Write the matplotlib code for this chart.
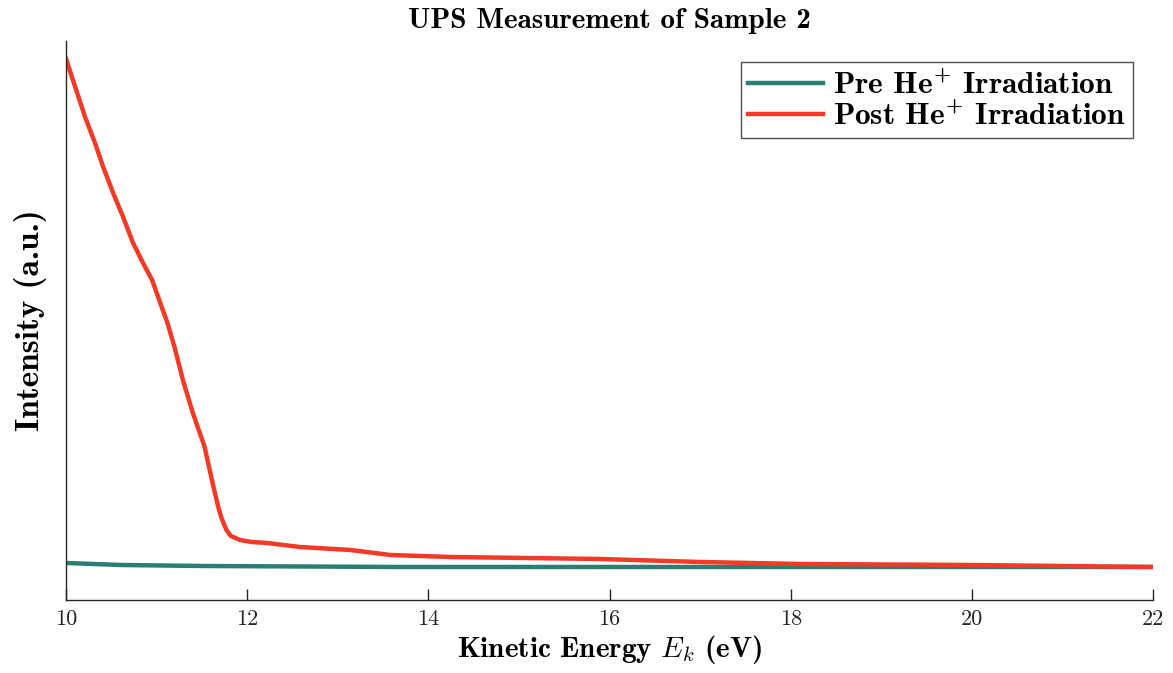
import matplotlib.pyplot as plt
import numpy as np

plt.rcParams['mathtext.fontset'] = 'custom'
plt.rcParams['mathtext.rm'] = 'cmb10'
plt.rcParams['mathtext.bf'] = 'cmb10'
plt.rcParams['mathtext.it'] = 'cmmi10'
plt.rcParams['axes.unicode_minus'] = False

# UPS spectra (kinetic energy in eV, intensity in arbitrary units)
energy_post = [10.00, 10.21, 10.32, 10.41, 10.52, 10.63, 10.74, 10.85, 10.95,
               11.04, 11.12, 11.20, 11.29, 11.40, 11.53, 11.61, 11.68, 11.72,
               11.77, 11.82, 11.92, 12.05, 12.22, 12.58, 13.14, 13.58, 14.24,
               15.90, 17.00, 18.10, 20.00, 22.00]
intensity_post = [541, 483, 457, 433, 407, 383, 357, 337, 320,
                  297, 277, 252, 220, 187, 153, 120, 93, 81,
                  70, 64, 60, 58, 57, 53, 50, 45, 43,
                  41, 38, 36, 35, 33]

energy_pre = [10.00, 10.60, 11.50, 13.70, 16.00, 22.00]
intensity_pre = [37, 35, 34, 33, 33, 33]

fig = plt.figure(figsize=(11.73, 6.73), dpi=100)
ax = fig.add_axes([0.0563, 0.1085, 0.9267, 0.8306])

ax.plot(energy_pre, intensity_pre, color='#2a7f73', linewidth=3.2,
        label=r'Pre He$^{+}$ Irradiation')
ax.plot(energy_post, intensity_post, color='#f23a25', linewidth=3.2,
        label=r'Post He$^{+}$ Irradiation')

ax.set_xlim(10, 22)
ax.set_ylim(0, 559)
ax.set_xticks(np.arange(10, 23, 2))
ax.set_yticks([])
ax.tick_params(axis='x', direction='in', length=8, width=1, colors='#262626',
               labelsize=16, pad=7)
for lab in ax.get_xticklabels():
    lab.set_fontfamily('cmr10')

for side in ['top', 'right']:
    ax.spines[side].set_visible(False)
for side in ['left', 'bottom']:
    ax.spines[side].set_color('#262626')
    ax.spines[side].set_linewidth(1)

ax.set_title('UPS Measurement of Sample 2', fontfamily='cmb10', fontsize=21,
             pad=9)
ax.set_xlabel(r'Kinetic Energy $E_k$ (eV)', fontfamily='cmb10', fontsize=21,
              labelpad=3)
ax.set_ylabel('Intensity (a.u.)', fontfamily='cmb10', fontsize=24, labelpad=14)

leg = ax.legend(loc='upper right', bbox_to_anchor=(0.982, 0.962),
                borderaxespad=0, prop={'family': 'cmb10', 'size': 22.5},
                fancybox=False, edgecolor='#262626', handlelength=2.4,
                handletextpad=0.3, borderpad=0.25, labelspacing=0.05)
leg.get_frame().set_linewidth(1)

plt.savefig('out.png', dpi=100)
